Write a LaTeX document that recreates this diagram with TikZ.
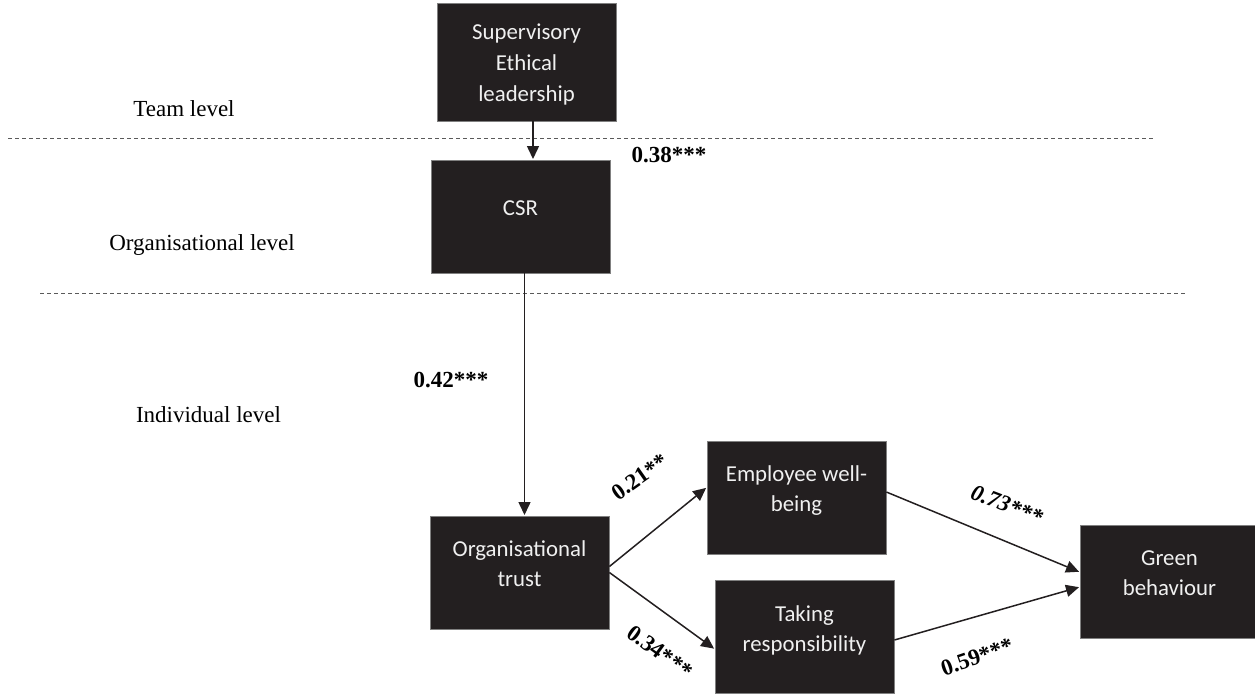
\documentclass[tikz,border=0pt]{standalone}
\usepackage{fontspec}
\setmainfont{Liberation Serif}
\newfontfamily\boxfont{Carlito}
\usetikzlibrary{arrows.meta}
\definecolor{boxfill}{HTML}{231F20}
\definecolor{dashgray}{HTML}{5A5A5A}

\begin{document}
\begin{tikzpicture}[x=0.5pt,y=-0.5pt,
        box/.style={rectangle, draw=gray, fill=boxfill, text=white!94!black,
                        font=\boxfont\fontsize{11.4}{15}\selectfont, align=center,
                        inner sep=0pt, minimum width=89.5pt, minimum height=56.5pt,
                        text height=13.5pt, text depth=0pt},
        coef/.style={font=\fontsize{11.5}{14}\selectfont\bfseries, inner sep=0pt},
        lvl/.style={font=\fontsize{11.5}{14}\selectfont, inner sep=0pt},
        arr/.style={-{Triangle[length=6.5pt,width=6pt]}, line width=0.75pt,
                        draw=boxfill, shorten >=0.3pt},
        divider/.style={dashgray, line width=0.5pt, dash pattern=on 2pt off 1.5pt}]
    \useasboundingbox (0,0) rectangle (1255,693);
    \clip (0,0) rectangle (1255,693);

    % levels
    \coordinate (d1a) at (8,138);
    \coordinate (d1b) at (1155,138);
    \coordinate (d2a) at (40,293);
    \coordinate (d2b) at (1188,293);
    \draw[divider] (d1a) -- (d1b);
    \draw[divider] (d2a) -- (d2b);
    \node[lvl] (team) at (184,109) {Team level};
    \node[lvl] (orglvl) at (202,245) {Organisational level};
    \node[lvl] (indlvl) at (208.5,415) {Individual level};

    % boxes
    \node[box, minimum height=59pt, text height=39pt,
          font=\boxfont\fontsize{11.4}{15.5}\selectfont] (sel) at (526.5,62) {Supervisory\\Ethical\\leadership};
    \node[box, text height=0pt, text depth=1.5pt] (csr) at (520.5,216.5) {CSR};
    \node[box] (trust) at (519.5,572.5) {Organisational\\trust};
    \node[box, text height=14.2pt] (wellb) at (796.5,497.5) {Employee well-\\being};
    \node[box, text height=15.2pt] (resp) at (804.5,636.5) {Taking\\responsibility};
    \node[box] (green) at (1169.5,581.5) {Green\\behaviour};

    % paths
    \draw[arr] ([xshift=3.25pt]sel.south) -- ([xshift=3.25pt]sel.south |- csr.north);
    \draw[arr] ([xshift=2pt]csr.south) -- ([xshift=2pt]csr.south |- trust.north);
    \draw[arr] ([yshift=3pt]trust.east) -- ([yshift=5pt]wellb.west);
    \draw[arr] (trust.east) -- ([yshift=-6.25pt]resp.west);
    \draw[arr] ([yshift=2.75pt]wellb.east) -- ([yshift=4.75pt]green.west);
    \draw[arr] ([yshift=-1.75pt]resp.east) -- ([yshift=-2.75pt]green.west);

    \node[coef] (c1) at (669,155) {0.38***};
    \node[coef] (c2) at (451,380) {0.42***};
    \node[coef, rotate=35] (c3) at (640,477) {0.21**};
    \node[coef, rotate=-36] (c4) at (660,652) {0.34***};
    \node[coef, rotate=-21, font=\fontsize{11.5}{14}\selectfont\bfseries\itshape] (c5) at (1007,505) {0.73***};
    \node[coef, rotate=19] (c6) at (977,657) {0.59***};
\end{tikzpicture}
\end{document}
